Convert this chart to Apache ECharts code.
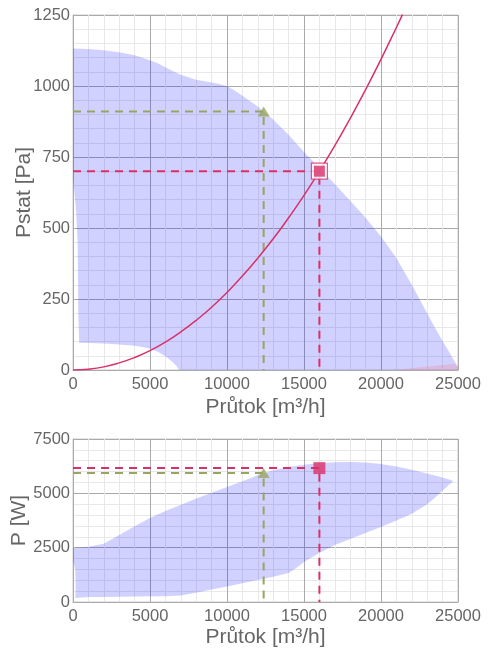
<!DOCTYPE html>
<html>
<head>
<meta charset="utf-8">
<script src="https://cdn.jsdelivr.net/npm/echarts@6/dist/echarts.min.js"></script>
<style>
html,body{margin:0;padding:0;background:#fff;}
#c{width:495px;height:648px;}
</style>
</head>
<body>
<div id="c"></div>
<script>
// ---- data ----
var xTicks = [0, 5000, 10000, 15000, 20000, 25000];
var pstatTicks = [0, 250, 500, 750, 1000, 1250];
var powerTicks = [0, 2500, 5000, 7500];

// operating envelope, pressure chart (upper edge then lower edge back)
var pstatEnvelope = [
  [0,1132],[1000,1130],[2000,1126],[3000,1119],[4000,1108],[5000,1091],[5500,1080],[6000,1066],[6500,1052],
  [7000,1040],[8000,1022],[9000,1012],[9500,1007],[10000,1000],[10500,984],[11000,966],[12000,928],[13000,882],
  [14000,828],[15000,768],[16000,712],[17000,655],[18000,596],[19000,536],[20000,470],
  [21000,394],[22000,300],[22500,250],[23000,200],[23500,150],[24000,102],[24500,57],[24800,28],[25000,12],
  [25000,0],[6900,0],[6750,12],[6500,26],[6200,40],[6000,48],[5500,64],[5000,75],[4500,81],[4000,85],[3000,90],[2000,93],
  [1000,95],[400,96],[340,200],[330,300],[300,450],[200,560],[80,630],[0,670]
];
var pstatEnvelope2 = [[20800,0],[24800,22],[25000,8],[25000,0]];

// system curve
var systemCurve = [
  [0,0],[1000,3],[2000,11],[3000,25],[4000,44],[5000,68],[6000,98],[7000,134],
  [8000,175],[9000,221],[10000,273],[11000,331],[12000,394],[13000,462],[14000,536],
  [15000,615],[16000,700],[17000,790],[18000,886],[19000,987],[20000,1094],[21000,1206],[21400,1252]
];

// operating envelope, power chart
var powerEnvelope = [
  [0,2480],[1000,2540],[2000,2680],[3000,3080],[4000,3480],[5000,3860],[6000,4190],
  [7000,4470],[8000,4760],[9000,5030],[10000,5290],[11000,5560],[12000,5830],[13000,6060],
  [14000,6210],[15000,6310],[16000,6380],[17000,6425],[18000,6440],[19000,6415],[20000,6355],
  [21000,6240],[22000,6090],[23000,5910],[24000,5730],[24500,5630],[24700,5570],
  [24400,5380],[24000,5130],[23500,4800],[23000,4500],[22000,4060],[21000,3750],[20000,3450],[19000,3170],[18000,2900],
  [17000,2620],[16000,2250],[15500,2050],[15000,1840],[14500,1560],[14000,1330],[13000,1160],[12000,1010],[11000,860],
  [10000,710],[9000,570],[8000,430],[7000,300],[6000,270],[4000,250],[2000,235],[1000,225],
  [150,180],[170,600],[150,1500],[0,1900]
];

var opPointPstat = [16000, 700];
var opPointPower = [16000, 6160];
var refPointPstat = [12380, 910];
var refPointPower = [12380, 5930];

// ---- styles ----
var RED = '#d93068';
var GREEN = '#98a560';
var FILL = 'rgba(0,0,255,0.18)';
var FONT = 'Liberation Sans';

function polySeries(xi, pts, color) {
  return {
    type: 'custom', xAxisIndex: xi, yAxisIndex: xi, silent: true, z: 1,
    data: [pts[0]],
    renderItem: function (params, api) {
      return {
        type: 'polygon',
        shape: { points: pts.map(function (p) { return api.coord(p); }) },
        style: { fill: color }
      };
    }
  };
}
function guide(xi, pt, color) {
  return {
    type: 'line', xAxisIndex: xi, yAxisIndex: xi, silent: true, symbol: 'none', z: 3,
    data: [[0, pt[1]], [pt[0], pt[1]], [pt[0], 0]],
    lineStyle: { color: color, width: 2, type: [8, 6] }
  };
}
function plain(v) { return String(v); }
function xAxisDef(gi) {
  return {
    type: 'value', gridIndex: gi, min: xTicks[0], max: xTicks[xTicks.length - 1], interval: xTicks[1] - xTicks[0],
    name: 'Průtok [m³/h]', nameLocation: 'middle', nameGap: gi === 0 ? 27 : 25, nameMoveOverlap: false,
    nameTextStyle: { fontFamily: FONT, fontSize: 21, color: '#666' },
    axisLine: { show: true, lineStyle: { color: '#aaa' } },
    axisTick: { show: false },
    axisLabel: { fontFamily: FONT, fontSize: 16.5, color: '#666', margin: 6, formatter: plain },
    splitLine: { show: true, lineStyle: { color: '#aaa', width: 1 } },
    minorTick: { show: false, splitNumber: 5 },
    minorSplitLine: { show: true, lineStyle: { color: '#e8e8e8', width: 1 } }
  };
}
function yAxisDef(gi, max, interval, name, gap) {
  return {
    type: 'value', gridIndex: gi, min: 0, max: max, interval: interval,
    name: name, nameLocation: 'middle', nameGap: gap, nameMoveOverlap: false,
    nameTextStyle: { fontFamily: FONT, fontSize: 21, color: '#666' },
    axisLine: { show: true, lineStyle: { color: '#aaa' } },
    axisTick: { show: false },
    axisLabel: { fontFamily: FONT, fontSize: 16.5, color: '#666', margin: 3, formatter: plain },
    splitLine: { show: true, lineStyle: { color: '#aaa', width: 1 } },
    minorTick: { show: false, splitNumber: 5 },
    minorSplitLine: { show: true, lineStyle: { color: '#e8e8e8', width: 1 } }
  };
}

var chart = echarts.init(document.getElementById('c'), null, { renderer: 'canvas' });
chart.setOption({
  animation: false,
  grid: [
    { left: 73, top: 15, width: 385, height: 355, containLabel: false, outerBoundsMode: 'none', show: true, borderColor: '#ccc', borderWidth: 1, backgroundColor: 'transparent' },
    { left: 73, top: 439, width: 385, height: 163, containLabel: false, outerBoundsMode: 'none', show: true, borderColor: '#ccc', borderWidth: 1, backgroundColor: 'transparent' }
  ],
  xAxis: [xAxisDef(0), xAxisDef(1)],
  yAxis: [
    yAxisDef(0, pstatTicks[pstatTicks.length - 1], pstatTicks[1] - pstatTicks[0], 'Pstat [Pa]', 38),
    yAxisDef(1, powerTicks[powerTicks.length - 1], powerTicks[1] - powerTicks[0], 'P [W]', 43)
  ],
  series: [
    polySeries(0, pstatEnvelope, FILL),
    polySeries(0, pstatEnvelope2, 'rgba(255,80,80,0.18)'),
    {
      type: 'line', xAxisIndex: 0, yAxisIndex: 0, data: systemCurve, smooth: true,
      symbol: 'none', silent: true, z: 4, lineStyle: { color: RED, width: 1.5 }
    },
    guide(0, opPointPstat, RED),
    guide(0, refPointPstat, GREEN),
    {
      type: 'scatter', xAxisIndex: 0, yAxisIndex: 0, data: [refPointPstat], z: 5,
      symbol: 'triangle', symbolSize: [12, 10], itemStyle: { color: GREEN }
    },
    {
      type: 'scatter', xAxisIndex: 0, yAxisIndex: 0, data: [opPointPstat], z: 5,
      symbol: 'rect', symbolSize: 16, itemStyle: { color: '#fff', borderColor: RED, borderWidth: 1.2 }
    },
    {
      type: 'scatter', xAxisIndex: 0, yAxisIndex: 0, data: [opPointPstat], z: 6,
      symbol: 'rect', symbolSize: 11, itemStyle: { color: RED }
    },
    polySeries(1, powerEnvelope, FILL),
    guide(1, opPointPower, RED),
    guide(1, refPointPower, GREEN),
    {
      type: 'scatter', xAxisIndex: 1, yAxisIndex: 1, data: [refPointPower], z: 5,
      symbol: 'triangle', symbolSize: [12, 10], itemStyle: { color: GREEN }
    },
    {
      type: 'scatter', xAxisIndex: 1, yAxisIndex: 1, data: [opPointPower], z: 6,
      symbol: 'rect', symbolSize: 12, itemStyle: { color: RED }
    }
  ]
});
</script>
</body>
</html>
